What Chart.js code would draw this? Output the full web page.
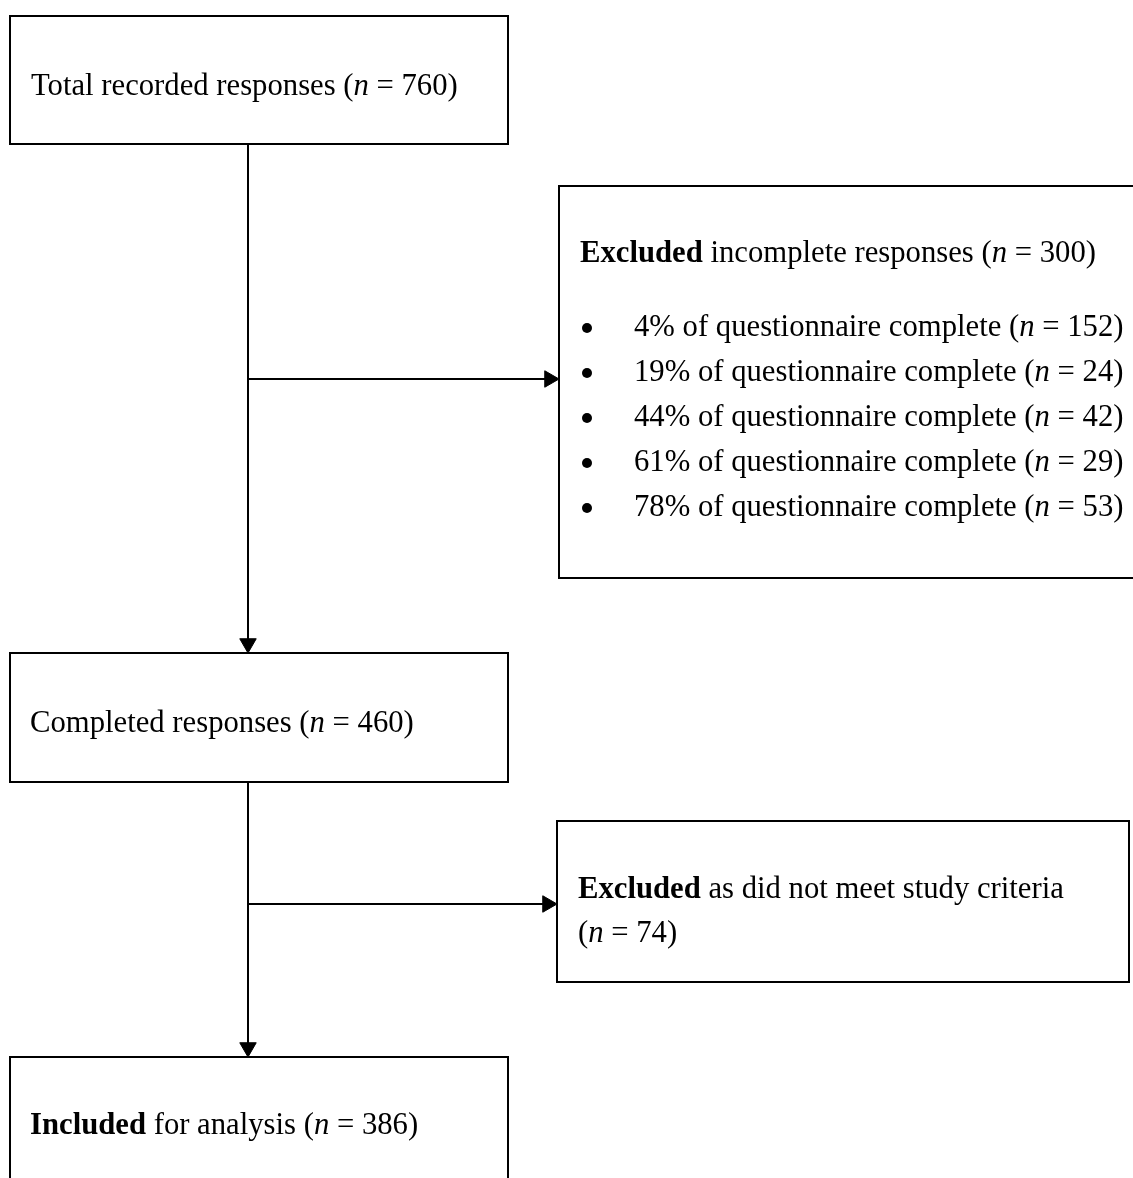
<!DOCTYPE html>
<html>
<head>
<meta charset="utf-8">
<title>Response flow</title>
<script src="https://cdn.jsdelivr.net/npm/chart.js@4.4.1/dist/chart.umd.min.js"></script>
<style>
  html, body { margin: 0; padding: 0; background: #fff; }
  #wrap { width: 1133px; height: 1178px; }
</style>
</head>
<body>
<div id="wrap"><canvas id="flow" width="1133" height="1178"></canvas></div>
<script>
// ===== Data =====
const stageLead = ['', '', 'Included'];
const stageText = ['Total recorded responses', 'Completed responses', 'for analysis'];
const stageN = [760, 460, 386];

const exclLead = ['Excluded', 'Excluded'];
const exclText = ['incomplete responses', 'as did not meet study criteria'];
const exclN = [300, 74];

const pctComplete = [4, 19, 44, 61, 78];
const pctN = [152, 24, 42, 29, 53];

// ===== Layout (scale units match page pixels) =====
const W = 1133, H = 1178;
const TRUNK_X = 248;
const stageBox = [
  { x0: 10, x1: 508, y0: 16, y1: 144, tx: 31, ty: 95 },
  { x0: 10, x1: 508, y0: 653, y1: 782, tx: 30, ty: 732 },
  { x0: 10, x1: 508, y0: 1057, y1: 1210, tx: 30, ty: 1134 }
];
const exclBox = [
  { x0: 559, x1: 1160, y0: 186, y1: 578, tx: 580, ty: 262, armY: 379 },
  { x0: 557, x1: 1129, y0: 821, y1: 982, tx: 578, ty: 898, armY: 904 }
];
const BULLET_X = 587, BULLET_TX = 634, BULLET_Y0 = 336, BULLET_STEP = 45;
const BULLET_R = 5, BULLET_LIFT = 8;
const WRAP_STEP = 44;
const HEAD_R = 9.5;
const FONT = '"Liberation Serif", "Times New Roman", serif';
const FONT_PX = 31, STRETCH = 0.99;
const INK = '#000';

// ===== Helpers =====
// outline path; runs one edge past the start so every corner gets a miter join
function rectPath(b) {
  return [
    { x: b.x0, y: b.y0 }, { x: b.x1, y: b.y0 }, { x: b.x1, y: b.y1 },
    { x: b.x0, y: b.y1 }, { x: b.x0, y: b.y0 }, { x: b.x1, y: b.y0 }
  ];
}

function lineSet(data, width) {
  return {
    type: 'scatter', data, showLine: true, tension: 0, clip: false,
    borderColor: INK, borderWidth: width, borderJoinStyle: 'miter',
    pointRadius: 0, fill: false
  };
}

function nRuns(n) {
  return [{ t: '(' }, { t: 'n', i: true }, { t: ' = ' + n + ')' }];
}

function drawRuns(ctx, px, py, runs) {
  ctx.save();
  ctx.translate(px, py);
  ctx.scale(STRETCH, 1);
  let cx = 0;
  runs.forEach(r => {
    ctx.font = `${r.i ? 'italic' : 'normal'} ${r.b ? 'bold' : 'normal'} ${FONT_PX}px ${FONT}`;
    ctx.fillText(r.t, cx, 0);
    cx += ctx.measureText(r.t).width;
  });
  ctx.restore();
}

// ===== Datasets =====
const datasets = [];
stageBox.forEach(b => datasets.push(lineSet(rectPath(b), 2)));
exclBox.forEach(b => datasets.push(lineSet(rectPath(b), 2)));

// trunk segments between stage boxes, stopping at the arrow heads
for (let i = 0; i < stageBox.length - 1; i++) {
  datasets.push(lineSet([
    { x: TRUNK_X, y: stageBox[i].y1 },
    { x: TRUNK_X, y: stageBox[i + 1].y0 - HEAD_R }
  ], 2));
}
// side arms to the exclusion boxes
exclBox.forEach(b => {
  datasets.push(lineSet([
    { x: TRUNK_X, y: b.armY },
    { x: b.x0 - HEAD_R, y: b.armY }
  ], 2));
});

// arrow heads
const heads = [], headRot = [];
stageBox.slice(1).forEach(b => { heads.push({ x: TRUNK_X, y: b.y0 - HEAD_R }); headRot.push(180); });
exclBox.forEach(b => { heads.push({ x: b.x0 - HEAD_R, y: b.armY }); headRot.push(90); });
datasets.push({
  type: 'scatter', data: heads, showLine: false, clip: false,
  pointStyle: 'triangle', pointRadius: HEAD_R, pointRotation: headRot,
  pointBackgroundColor: INK, pointBorderColor: INK, pointBorderWidth: 1
});

// list bullets, one per completion group
datasets.push({
  type: 'scatter', showLine: false, clip: false,
  data: pctComplete.map((_, k) => ({ x: BULLET_X, y: BULLET_Y0 + k * BULLET_STEP - BULLET_LIFT })),
  pointStyle: 'circle', pointRadius: BULLET_R,
  pointBackgroundColor: INK, pointBorderColor: INK, pointBorderWidth: 0
});

// ===== Text plugin =====
const flowText = {
  id: 'flowText',
  afterDatasetsDraw(chart) {
    const { ctx, scales: { x, y } } = chart;
    ctx.save();
    ctx.fillStyle = INK;
    ctx.textBaseline = 'alphabetic';
    ctx.textAlign = 'left';

    stageBox.forEach((b, i) => {
      const runs = [];
      if (stageLead[i]) runs.push({ t: stageLead[i] + ' ', b: true });
      runs.push({ t: stageText[i] + ' ' }, ...nRuns(stageN[i]));
      drawRuns(ctx, x.getPixelForValue(b.tx), y.getPixelForValue(b.ty), runs);
    });

    // first exclusion: header on one line, then the list
    const e0 = exclBox[0];
    drawRuns(ctx, x.getPixelForValue(e0.tx), y.getPixelForValue(e0.ty),
      [{ t: exclLead[0], b: true }, { t: ' ' + exclText[0] + ' ' }, ...nRuns(exclN[0])]);
    pctComplete.forEach((p, k) => {
      drawRuns(ctx, x.getPixelForValue(BULLET_TX), y.getPixelForValue(BULLET_Y0 + k * BULLET_STEP),
        [{ t: p + '% of questionnaire complete ' }, ...nRuns(pctN[k])]);
    });

    // second exclusion: count wraps to its own line
    const e1 = exclBox[1];
    drawRuns(ctx, x.getPixelForValue(e1.tx), y.getPixelForValue(e1.ty),
      [{ t: exclLead[1], b: true }, { t: ' ' + exclText[1] }]);
    drawRuns(ctx, x.getPixelForValue(e1.tx), y.getPixelForValue(e1.ty + WRAP_STEP), nRuns(exclN[1]));

    ctx.restore();
  }
};

// ===== Chart =====
new Chart(document.getElementById('flow').getContext('2d'), {
  type: 'scatter',
  data: { datasets },
  options: {
    responsive: false, animation: false, events: [],
    layout: { padding: 0, autoPadding: false },
    plugins: { legend: { display: false }, tooltip: { enabled: false } },
    scales: {
      x: { type: 'linear', min: 0, max: W, display: false },
      y: { type: 'linear', min: 0, max: H, reverse: true, display: false }
    }
  },
  plugins: [flowText]
});
</script>
</body>
</html>
